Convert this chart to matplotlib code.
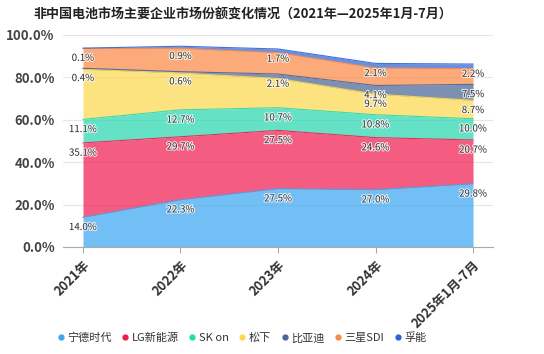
import numpy as np
import matplotlib
matplotlib.use("Agg")
import matplotlib.pyplot as plt
import matplotlib.patheffects as pe
from matplotlib.lines import Line2D

plt.rcParams['font.family'] = ['Noto Sans CJK SC', 'DejaVu Sans']

categories = ['2021年', '2022年', '2023年', '2024年', '2025年1月-7月']
names = ['宁德时代', 'LG新能源', 'SK on', '松下', '比亚迪', '三星SDI', '孚能']
catl = [14.0, 22.3, 27.5, 27.0, 29.8]
lges = [35.1, 29.7, 27.5, 24.6, 20.7]
skon = [11.1, 12.7, 10.7, 10.8, 10.0]
panasonic = [23.7, 17.4, 13.8, 9.7, 8.7]
byd = [0.4, 0.6, 2.1, 4.1, 7.5]
sdi = [9.4, 11.1, 10.1, 8.3, 7.4]
farasis = [0.1, 0.9, 1.7, 2.1, 2.2]
series = [catl, lges, skon, panasonic, byd, sdi, farasis]
colors = ['#3ba7f0', '#f01e50', '#2ad8b0', '#fdd94f', '#4a6598', '#fb8a45', '#2f64d6']

fig = plt.figure(figsize=(5.44, 3.54), dpi=100)
ax = fig.add_axes([63 / 544, 1 - 247 / 354, 430 / 544, 212 / 354])

x = np.arange(len(categories))
data = np.array(series)
tops = np.cumsum(data, axis=0)
bottoms = tops - data

for i in range(len(series)):
    ax.fill_between(x, bottoms[i], tops[i], color=colors[i], alpha=0.72, lw=0, zorder=2)
    ax.plot(x, tops[i], color=colors[i], lw=0.8, alpha=0.9, zorder=3)

# data labels, top series first, hide overlaps
for j in range(len(categories)):
    placed = []
    for i in range(len(series) - 1, -1, -1):
        y = tops[i][j]
        if any(abs(y - p) < 3.0 for p in placed):
            continue
        placed.append(y)
        ax.annotate(f'{data[i][j]:.1f}%', (x[j], y), xytext=(0, -7), textcoords='offset points',
                    ha='center', va='center', fontsize=7, color='#333333', zorder=5,
                    path_effects=[pe.withStroke(linewidth=1.5, foreground='white', alpha=0.8)])

ax.set_xlim(-0.205, 4.205)
ax.set_ylim(0, 100)
ax.set_yticks([0, 20, 40, 60, 80, 100])
ax.set_yticklabels([f'{v:.1f}%' for v in [0, 20, 40, 60, 80, 100]], fontsize=9.5,
                   fontweight='bold', color='#444444')
ax.set_xticks(x)
ax.set_xticklabels(categories, rotation=45, ha='right', rotation_mode='anchor',
                   fontsize=9.3, fontweight='bold', color='#333333')
ax.tick_params(axis='y', length=0, pad=6)
ax.tick_params(axis='x', length=4, color='#aaaaaa', pad=4)
ax.grid(axis='y', color='#e6e6e6', lw=0.8, zorder=0)
for s in ['top', 'right', 'left']:
    ax.spines[s].set_visible(False)
ax.spines['bottom'].set_color('#aaaaaa')

fig.text(33 / 544, 1 - 15 / 354, '非中国电池市场主要企业市场份额变化情况（2021年—2025年1月-7月）',
         fontsize=9.4, fontweight='bold', color='#222222', va='center', ha='left')

handles = [Line2D([], [], marker='o', ls='', color=c, markersize=3.5) for c in colors]
fig.legend(handles, names, loc='center', bbox_to_anchor=(242 / 544, 1 - 338 / 354), ncol=7,
           frameon=False, fontsize=8, handlelength=0.6, handletextpad=0.3, columnspacing=0.9,
           labelcolor='#333333', borderaxespad=0)

fig.savefig('out.png', dpi=100)
